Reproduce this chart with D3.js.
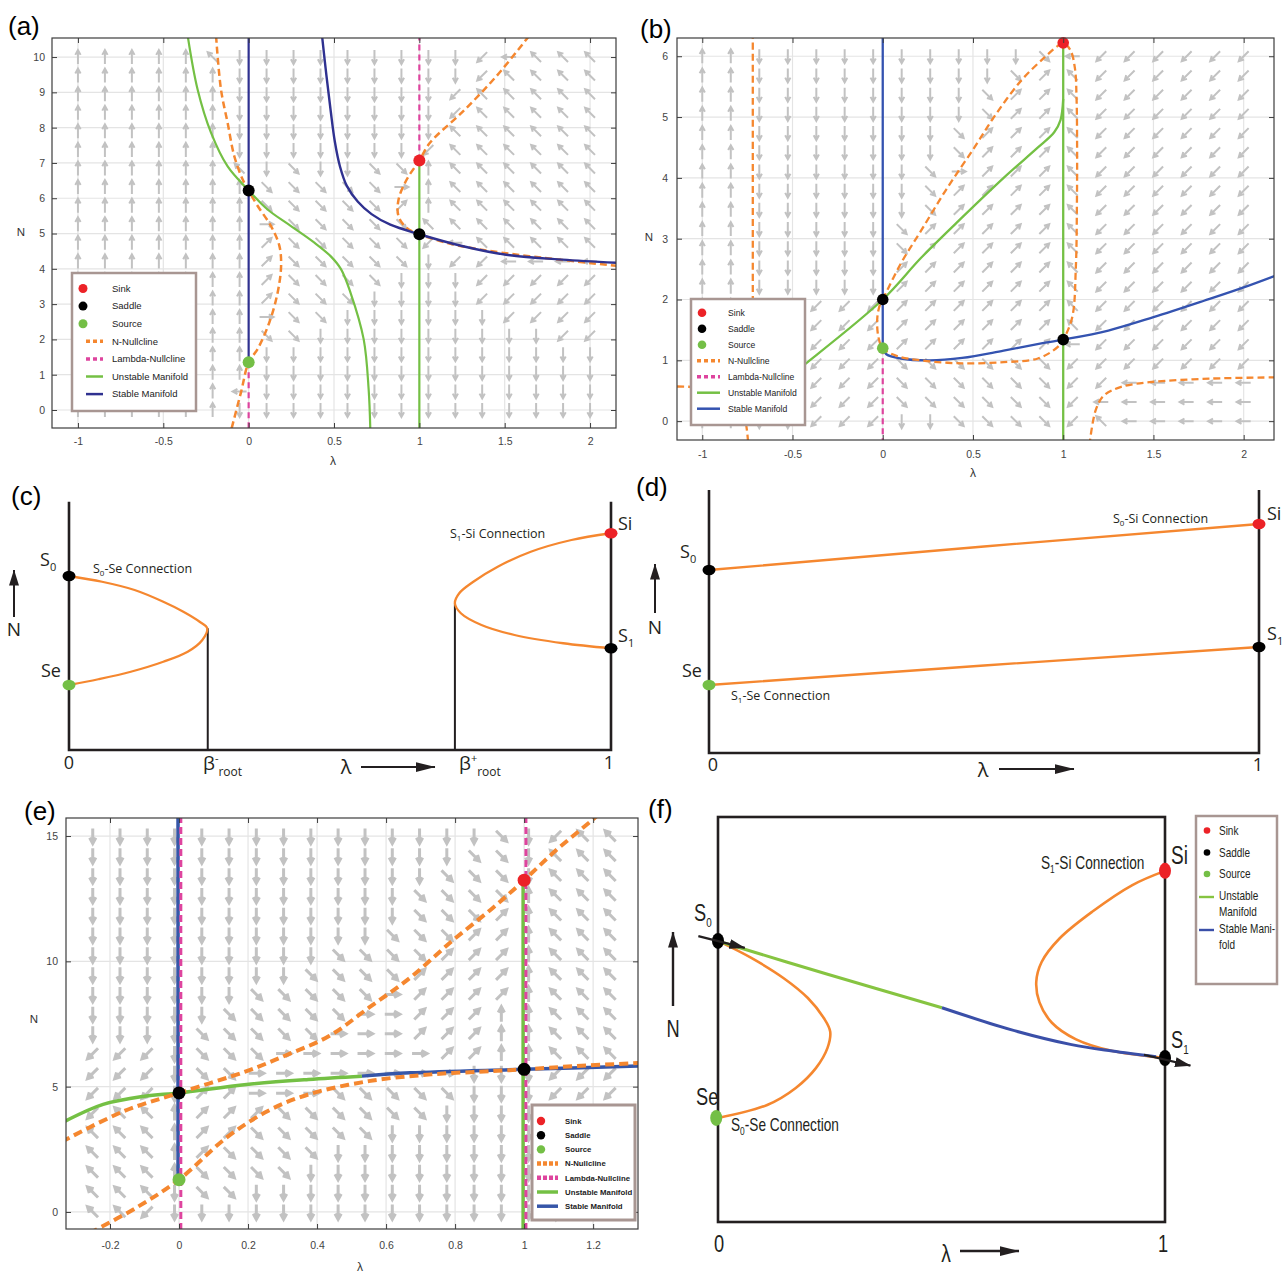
<!DOCTYPE html>
<html>
<head>
<meta charset="utf-8">
<script src="https://cdn.jsdelivr.net/npm/d3@7/dist/d3.min.js"></script>
<style>
body{margin:0;background:#fff;}
</style>
</head>
<body>
<svg id="fig" width="1283" height="1275" xmlns="http://www.w3.org/2000/svg"></svg>
<script>
// ======================= DATA =======================
// Quiver direction codes: w up, x down, a left, d right, q up-left, e up-right, z down-left, c down-right
// ---------- Panel (a) ----------
const aXTicks = [-1, -0.5, 0, 0.5, 1, 1.5, 2];
const aYTicks = [0, 1, 2, 3, 4, 5, 6, 7, 8, 9, 10];
const aGridX = [-1,-0.842,-0.684,-0.526,-0.368,-0.211,-0.053,0.105,0.263,0.421,0.579,0.737,0.895,1.053,1.211,1.368,1.526,1.684,1.842,2];
const aGridY = [10,9.474,8.947,8.421,7.895,7.368,6.842,6.316,5.789,5.263,4.737,4.211,3.684,3.158,2.632,2.105,1.579,1.053,0.526,0];
const aField = [
"wwwwwqxxxxxxxxxzaqqq",
"wwwwwwxxxxxxxxxzqqqq",
"wwwwwwxxxxxxxxzqqqqq",
"wwwwwwxxxxxxxxzqqqqq",
"wwwwwwxxxxxxxxqqqqqq",
"wwwwwwxxxxxxxzqqqqqq",
"wwwwwwqxcxxccwqqqqqq",
"wwwwwwwcccccdwqqqqqq",
"wwwwwwwcccccewqqqqqq",
"wwwwwwwdcccccqqqqqqq",
"wwwwwwweccccczaqqqqq",
"wwwwwwwecccccxzzaaaa",
"wwwwwwweccccxxxzzzzz",
"wwwwwwwecccxxxxzzzzz",
"wwwwwwwdccxxxxxxzzzz",
"wwwwwwwccxxxxxxxxxzz",
"wwwwwwwxxxxxxxxxxxxx",
"wwwwwwwxxxxxxxxxxxxx",
"wwwwwwaxxxxxxxxxxxxx",
"wwwwwwxxxxxxxxxxxxxx"];
const aUnstable = [[-0.357,10.6],[-0.299,9.08],[-0.22,7.85],[-0.123,6.9],[0,6.22],[0.111,5.68],[0.248,5.21],[0.385,4.74],[0.48,4.36],[0.541,3.99],[0.597,3.32],[0.674,2.0],[0.703,0.58],[0.713,-0.6]];
const aUnstableVert = [[1,7.07],[1,-0.6]];
const aStableVert = [[0,10.6],[0,1.35]];
const aStable = [[0.43,10.6],[0.455,9.5],[0.48,8.5],[0.505,7.6],[0.535,6.9],[0.575,6.35],[0.64,5.9],[0.72,5.55],[0.83,5.25],[1,4.98],[1.256,4.64],[1.508,4.4],[1.837,4.26],[2.16,4.17]];
const aNullN1 = [[-0.191,10.6],[-0.162,9.08],[-0.123,8.13],[-0.084,7.19],[-0.035,6.53],[0,6.22],[0.053,5.78],[0.131,5.21],[0.18,4.65],[0.19,4.08],[0.17,3.33],[0.121,2.48],[0.053,1.73],[0,1.35],[-0.045,0.5],[-0.104,-0.6]];
const aNullN2 = [[1.643,10.6],[1.45,9.45],[1.256,8.46],[1.062,7.57],[1,7.07],[0.926,6.53],[0.878,5.96],[0.878,5.49],[0.926,5.16],[1,4.98],[1.159,4.74],[1.353,4.55],[1.643,4.36],[2.16,4.08]];
const aNullL = [[[0,1.35],[0,-0.6]], [[1,7.07],[1,10.6]]];
const aSinks = [[1,7.07]], aSaddles = [[0,6.22],[1,4.98]], aSources = [[0,1.35]];

// ---------- Panel (b) ----------
const bXTicks = [-1, -0.5, 0, 0.5, 1, 1.5, 2];
const bYTicks = [0, 1, 2, 3, 4, 5, 6];
const bGridX = aGridX;
const bGridY = [6,5.684,5.368,5.053,4.737,4.421,4.105,3.789,3.474,3.158,2.842,2.526,2.211,1.895,1.579,1.263,0.947,0.632,0.316,0];
const bField = [
"wwxxxxxxxxxxcazzzzzz",
"wwxxxxxxxxxceqzzzzzz",
"wwxxxxxxxxceeqzzzzzz",
"wwxxxxxxxxceeqzzzzzz",
"wwxxxxxxxceeeqzzzzzz",
"wwxxxxxxxceeeqzzzzzz",
"wwxxxxxxcdeeeqzzzzzz",
"wwxxxxxxceeeeqzzzzzz",
"wwxxxxxxceeeeqzzzzzz",
"wwxxxxxceeeeeqzzzzzz",
"wwxxxxxceeeeeqzzzzzz",
"wwxxxxxeeeeeeqzzzzzz",
"wwxxxxxeeeeeeqzzzzzz",
"wwxxzzzeeeeeeqzzzzzz",
"wwxxzzzeeeeeeqzzzzzz",
"wwxxzzzeeeeeeazzzzzz",
"wwxxzzzcccccczzzzzzz",
"wwxxzzzcccccczzaaaaa",
"wwxxzzzcccccczaaaaaa",
"wwxxzzzxxcccczqaaaaa"];
const bUnstable = [[-0.6,0.55],[-0.43,0.94],[0,2.0],[0.214,2.69],[0.44,3.35],[0.67,4.0],[0.86,4.5],[0.95,4.75],[0.985,4.95],[1,5.3]];
const bUnstableVert = [[1,6.22],[1,-0.4]];
const bStableVert = [[0,6.4],[0,1.2]];
const bStable = [[0,1.2],[0.02,1.1],[0.1,1.03],[0.26,1.0],[0.44,1.04],[0.67,1.16],[0.9,1.29],[1,1.34],[1.25,1.49],[1.5,1.71],[1.78,1.98],[2.0,2.2],[2.2,2.42]];
const bNullLoop = [[0,2.0],[0.1,2.59],[0.214,3.14],[0.35,3.8],[0.51,4.51],[0.63,5.06],[0.77,5.61],[0.9,5.99],[0.97,6.17],[1,6.22],[1.04,6.1],[1.065,5.8],[1.074,5.3],[1.077,4.5],[1.076,3.6],[1.07,2.53],[1.05,1.71],[1,1.34],[0.97,1.22],[0.86,1.03],[0.67,0.97],[0.44,0.95],[0.21,1.0],[0.08,1.07],[0,1.2],[-0.025,1.4],[-0.03,1.7],[-0.015,1.92],[0,2.0]];
const bNullLeftA = [[-0.72,6.4],[-0.72,3.0],[-0.72,1.0]];
const bNullLeftB = [[-1.2,0.57],[-1.0,0.55],[-0.85,0.45],[-0.77,0.1],[-0.745,-0.4]];
const bNullRight = [[1.145,-0.4],[1.18,0.18],[1.225,0.42],[1.317,0.56],[1.478,0.64],[1.823,0.7],[2.2,0.72]];
const bNullL = [[[0,1.2],[0,-0.4]]];
const bSinks = [[1,6.22]], bSaddles = [[0,2.0],[1,1.34]], bSources = [[0,1.2]];

// ---------- Panel (e) ----------
const eXTicks = [-0.2, 0, 0.2, 0.4, 0.6, 0.8, 1, 1.2];
const eYTicks = [0, 5, 10, 15];
const eGridX = [-0.25,-0.171,-0.092,-0.013,0.066,0.145,0.224,0.303,0.382,0.461,0.539,0.618,0.697,0.776,0.855,0.934,1.013,1.092,1.171,1.25];
const eGridY = [15,14.21,13.42,12.63,11.84,11.05,10.26,9.47,8.68,7.89,7.11,6.32,5.53,4.74,3.95,3.16,2.37,1.58,0.79,0];
const eField = [
"xxxxxxxxxxxxxxxcxzqq",
"xxxxxxxxxxxxxxccxqqq",
"xxxxxxxxxxxxxcccxqqq",
"xxxxxxxxxxxxccccwqqq",
"xxxxxxxxxxxxcccewqqq",
"xxxxxxxxxxxccceewqqq",
"xxxxxxxxxcccceeewqqq",
"xxxxxxxxcccceeeewqqq",
"xxxxxxcccccdeeeewqqq",
"xxxxxcccccddeeewwqqq",
"xxxxcccccdddeeewwqqq",
"zzzxcccddddddeewwqqq",
"zzzxccddddddddxxxzzz",
"zzzxeedddcccccxxxzzz",
"zqqweeeccccccxxxxzzz",
"qqqweecccccxxxxxxzzz",
"qqqweccccxxxxxxxxxzz",
"qqqwccccxxxxxxxxxxzz",
"qqqxccxxxxxxxxxxxxzz",
"qqzxxxxxxxxxxxxxxxzz"];
const eUnstable = [[-0.34,3.55],[-0.22,4.29],[-0.1,4.62],[0,4.75],[0.196,5.09],[0.375,5.29],[0.53,5.42]];
const eUnstableVert = [[1,13.24],[1,-0.8]];
const eStable = [[0.53,5.42],[0.67,5.55],[1,5.69],[1.34,5.83]];
const eStableVert = [[0,15.8],[0,1.29]];
const eNullUpper = [[-0.34,2.8],[-0.16,4.02],[0,4.75],[0.196,5.62],[0.315,6.28],[0.435,7.02],[0.55,8.15],[0.67,9.35],[0.79,10.8],[0.91,12.14],[1,13.24],[1.09,14.4],[1.2,15.67],[1.26,16.4]];
const eNullLower = [[-0.26,-0.85],[-0.125,0.16],[0,1.29],[0.137,2.96],[0.256,4.02],[0.375,4.69],[0.55,5.22],[0.73,5.49],[0.91,5.62],[1,5.69],[1.15,5.82],[1.34,5.95]];
const eNullL = [[[0,15.8],[0,-0.8]], [[1,15.8],[1,-0.8]]];
const eSinks = [[1,13.24]], eSaddles = [[0,4.75],[1,5.69]], eSources = [[0,1.29]];

// ---------- Panel (c) ----------
const cLeftCurve = [[0,6.96],[0.061,6.73],[0.121,6.4],[0.174,5.93],[0.211,5.53],[0.241,5.13],[0.255,4.87],[0.246,4.4],[0.219,3.93],[0.174,3.53],[0.114,3.13],[0.054,2.83],[0,2.6]];
const cRightCurve = [[1,8.67],[0.927,8.4],[0.852,7.93],[0.791,7.33],[0.746,6.73],[0.72,6.27],[0.712,5.87],[0.723,5.47],[0.761,5.0],[0.822,4.6],[0.912,4.27],[1,4.07]];
const cFrame = [[[0,9.93],[0,0],[1,0],[1,9.93]]];
const cRoots = [[[0.256,0],[0.256,4.87]], [[0.712,0],[0.712,5.87]]];
const cPoints = [{p:[0,6.96],t:"saddle"},{p:[0,2.6],t:"source"},{p:[1,8.67],t:"sink"},{p:[1,4.07],t:"saddle"}];

// ---------- Panel (d) ----------
const dUpper = [[0,7.32],[0.5,8.26],[1,9.16]];
const dLower = [[0,2.72],[0.5,3.5],[1,4.24]];
const dFrame = [[[0,10.52],[0,0],[1,0],[1,10.52]]];
const dPoints = [{p:[0,7.32],t:"saddle"},{p:[0,2.72],t:"source"},{p:[1,9.16],t:"sink"},{p:[1,4.24],t:"saddle"}];

// ---------- Panel (f) ----------
const fLeftCurve = [[0,6.94],[0.0745,6.52],[0.147,6.02],[0.201,5.53],[0.237,5.03],[0.251,4.7],[0.245,4.3],[0.219,3.8],[0.174,3.31],[0.11,2.89],[0,2.57]];
const fRightCurve = [[1,8.67],[0.927,8.32],[0.837,7.66],[0.764,7.0],[0.724,6.42],[0.712,5.93],[0.719,5.43],[0.747,4.92],[0.801,4.51],[0.883,4.22],[0.965,4.09],[1,4.05]];
const fUnstable = [[0.01,6.9],[0.247,6.11],[0.501,5.29]];
const fStable = [[0.501,5.29],[0.655,4.75],[0.791,4.38],[0.882,4.22],[0.98,4.08]];
const fArrows = [[[-0.044,7.06],[0.06,6.77]], [[0.953,4.13],[1.057,3.86]]];
const fPoints = [{p:[0,6.94],t:"saddle"},{p:[-0.004,2.57],t:"source"},{p:[1,8.67],t:"sink"},{p:[1,4.05],t:"saddle"}];

const legendItems = [
  {label:"Sink", type:"dot", key:"sink"},
  {label:"Saddle", type:"dot", key:"saddle"},
  {label:"Source", type:"dot", key:"source"},
  {label:"N-Nullcline", type:"dash", key:"orange"},
  {label:"Lambda-Nullcline", type:"dash", key:"magenta"},
  {label:"Unstable Manifold", type:"line", key:"green"},
  {label:"Stable Manifold", type:"line", key:"blue"}];
const fLegendItems = [
  {label:["Sink"], type:"dot", key:"sink"},
  {label:["Saddle"], type:"dot", key:"saddle"},
  {label:["Source"], type:"dot", key:"source"},
  {label:["Unstable","Manifold"], type:"line", key:"green"},
  {label:["Stable Mani-","fold"], type:"line", key:"blue"}];

// ======================= STYLE =======================
const COL = {sink:"#ec2227", saddle:"#000000", source:"#74bf46", orange:"#f5872f", magenta:"#de449e", green:"#74c044", blue:"#2f3190", arrow:"#c2c2c2", grid:"#e4e4e4", frame:"#3d3d3d", text:"#231f20", legBorder:"#a89692"};
const FONT = "'Liberation Sans', Arial, sans-serif";
const MYR = "'Open Sans', 'Liberation Sans', sans-serif";

const svg = d3.select("#fig");
svg.append("rect").attr("width",1283).attr("height",1275).attr("fill","#fff");
const defs = svg.append("defs");
function mkMarker(id, w, h){
  defs.append("marker").attr("id",id).attr("viewBox",`0 0 ${w} ${h}`).attr("refX",w-0.5).attr("refY",h/2)
    .attr("markerUnits","userSpaceOnUse").attr("markerWidth",w).attr("markerHeight",h).attr("orient","auto")
    .append("path").attr("d",`M0,0L${w},${h/2}L0,${h}Z`).attr("fill","#231f20");
}
mkMarker("headBig", 20, 10);
mkMarker("headMid", 16, 10);

const DIR = {w:[0,-1],x:[0,1],a:[-1,0],d:[1,0],q:[-Math.SQRT1_2,-Math.SQRT1_2],e:[Math.SQRT1_2,-Math.SQRT1_2],z:[-Math.SQRT1_2,Math.SQRT1_2],c:[Math.SQRT1_2,Math.SQRT1_2]};
function arrowPath(cx, cy, v, L, H){
  const [dx,dy] = v, h = L/2;
  const tx = cx+dx*h, ty = cy+dy*h, sx = cx-dx*h, sy = cy-dy*h;
  const a = 0.5, c = Math.cos(a), s = Math.sin(a), bx=-dx, by=-dy;
  const h1x = tx+H*(bx*c-by*s), h1y = ty+H*(bx*s+by*c);
  const h2x = tx+H*(bx*c+by*s), h2y = ty+H*(-bx*s+by*c);
  return `M${sx},${sy}L${tx},${ty}M${h1x},${h1y}L${tx},${ty}L${h2x},${h2y}`;
}

function panelLabel(txt, x, y){
  svg.append("text").attr("x",x).attr("y",y).attr("font-family",FONT).attr("font-size",26).attr("fill","#000").text(txt);
}

function legendBox(L){
  const g = svg.append("g");
  g.append("rect").attr("x",L.x).attr("y",L.y).attr("width",L.w).attr("height",L.h).attr("fill","#fff").attr("stroke",COL.legBorder).attr("stroke-width",L.bw);
  const items = g.selectAll("g.it").data(L.items).join("g").attr("transform",(d,i)=>`translate(0,${L.y0+i*L.dy})`);
  items.each(function(d){
    const s = d3.select(this);
    if(d.type==="dot") s.append("circle").attr("cx",L.mx).attr("cy",0).attr("r",L.r).attr("fill",COL[d.key]);
    else s.append("line").attr("x1",L.lx1).attr("x2",L.lx2).attr("y1",0).attr("y2",0).attr("stroke",d.key==="blue"?L.blue:COL[d.key])
      .attr("stroke-width",d.type==="dash"?L.dw:L.lw).attr("stroke-dasharray",d.type==="dash"?L.dash:null);
    s.append("text").attr("x",L.tx).attr("y",0).attr("dy","0.35em").attr("font-family",FONT).attr("font-size",L.fs).attr("font-weight",L.fw||400).attr("fill","#222").text(d.label);
  });
}

function phasePanel(o){
  const g = svg.append("g");
  const x = d3.scaleLinear().domain(o.xDom).range([o.left,o.right]);
  const y = d3.scaleLinear().domain(o.yDom).range([o.bottom,o.top]);
  const cid = "clip-"+o.id;
  defs.append("clipPath").attr("id",cid).append("rect").attr("x",o.left).attr("y",o.top).attr("width",o.right-o.left).attr("height",o.bottom-o.top);
  g.append("g").selectAll("line").data(o.xTicks).join("line").attr("x1",d=>x(d)).attr("x2",d=>x(d)).attr("y1",o.top).attr("y2",o.bottom).attr("stroke",COL.grid).attr("stroke-width",1.2);
  g.append("g").selectAll("line").data(o.yTicks).join("line").attr("y1",d=>y(d)).attr("y2",d=>y(d)).attr("x1",o.left).attr("x2",o.right).attr("stroke",COL.grid).attr("stroke-width",1.2);
  const inner = g.append("g").attr("clip-path",`url(#${cid})`);
  const arrows = [];
  o.field.forEach((row,j)=>[...row].forEach((ch,i)=>arrows.push({lx:o.gridX[i], ny:o.gridY[j], ch})));
  inner.append("g").attr("fill","none").attr("stroke",COL.arrow).attr("stroke-width",o.arrowW).attr("stroke-linejoin","miter")
    .selectAll("path").data(arrows).join("path").attr("d",d=>arrowPath(x(d.lx),y(d.ny),DIR[d.ch],o.arrowLen,o.headLen));
  const line = d3.line().x(d=>x(d[0])).y(d=>y(d[1])).curve(d3.curveCatmullRom.alpha(0.5));
  o.curves.forEach(c=>{
    inner.append("path").datum(c.pts).attr("d",line).attr("fill","none").attr("stroke",c.color).attr("stroke-width",c.w)
      .attr("stroke-dasharray",c.dash||null).attr("transform",c.dx?`translate(${c.dx},0)`:null);
  });
  const pts = [];
  o.sinks.forEach(p=>pts.push({p,k:"sink"})); o.saddles.forEach(p=>pts.push({p,k:"saddle"})); o.sources.forEach(p=>pts.push({p,k:"source"}));
  g.append("g").selectAll("ellipse").data(pts).join("ellipse").attr("cx",d=>x(d.p[0])).attr("cy",d=>y(d.p[1])).attr("rx",o.rx).attr("ry",o.ry).attr("fill",d=>COL[d.k]);
  g.append("rect").attr("x",o.left).attr("y",o.top).attr("width",o.right-o.left).attr("height",o.bottom-o.top).attr("fill","none").attr("stroke",COL.frame).attr("stroke-width",1.2);
  const styleAxis = s=>{ s.select(".domain").remove(); s.selectAll(".tick line").attr("stroke",COL.frame); s.selectAll("text").attr("font-family",FONT).attr("font-size",o.tfs).attr("fill","#444"); };
  g.append("g").attr("transform",`translate(0,${o.bottom})`).call(d3.axisBottom(x).tickValues(o.xTicks).tickFormat(d=>String(d)).tickSizeInner(-5).tickSizeOuter(0).tickPadding(o.xPad)).call(styleAxis);
  g.append("g").attr("transform",`translate(0,${o.top})`).call(d3.axisTop(x).tickValues(o.xTicks).tickFormat("").tickSizeInner(-5).tickSizeOuter(0)).call(styleAxis);
  g.append("g").attr("transform",`translate(${o.left},0)`).call(d3.axisLeft(y).tickValues(o.yTicks).tickFormat(d=>String(d)).tickSizeInner(-5).tickSizeOuter(0).tickPadding(o.yPad)).call(styleAxis);
  g.append("g").attr("transform",`translate(${o.right},0)`).call(d3.axisRight(y).tickValues(o.yTicks).tickFormat("").tickSizeInner(-5).tickSizeOuter(0)).call(styleAxis);
  g.append("text").attr("x",o.yLab[0]).attr("y",o.yLab[1]).attr("dy","0.35em").attr("text-anchor","middle").attr("font-family",FONT).attr("font-size",11.5).attr("fill","#333").text("N");
  g.append("text").attr("x",o.xLab[0]).attr("y",o.xLab[1]).attr("dy","0.35em").attr("text-anchor","middle").attr("font-family",FONT).attr("font-size",12).attr("fill","#333").text("λ");
  return {g,x,y};
}

// ---------------- Panel (a) ----------------
phasePanel({id:"a", left:52, right:616, top:38, bottom:428, xDom:[-1.152,2.152], yDom:[-0.51,10.54],
  xTicks:aXTicks, yTicks:aYTicks, gridX:aGridX, gridY:aGridY, field:aField,
  arrowLen:14, headLen:5.5, arrowW:2, tfs:10.5, xPad:10, yPad:7, rx:6, ry:6,
  yLab:[21,232], xLab:[333,461],
  curves:[
    {pts:aNullL[0], color:COL.magenta, w:2.2, dash:"6,4"},
    {pts:aNullL[1], color:COL.magenta, w:2.2, dash:"6,4"},
    {pts:aNullN1, color:COL.orange, w:2.5, dash:"7,4"},
    {pts:aNullN2, color:COL.orange, w:2.5, dash:"7,4"},
    {pts:aUnstable, color:COL.green, w:2.2},
    {pts:aUnstableVert, color:COL.green, w:2.2},
    {pts:aStableVert, color:COL.blue, w:2.2},
    {pts:aStable, color:COL.blue, w:2.4}],
  sinks:aSinks, saddles:aSaddles, sources:aSources});
legendBox({x:72, y:273, w:124, h:138, bw:2.5, y0:288.5, dy:17.6, mx:83, r:4.5, lx1:86, lx2:103, tx:112, fs:9.5, dw:3.5, lw:2.5, dash:"4,3", blue:COL.blue, items:legendItems});
panelLabel("(a)", 8, 35);

// ---------------- Panel (b) ----------------
const bBlue = "#3453b0";
phasePanel({id:"b", left:677, right:1274, top:38, bottom:440, xDom:[-1.14,2.168], yDom:[-0.31,6.3],
  xTicks:bXTicks, yTicks:bYTicks, gridX:bGridX, gridY:bGridY, field:bField,
  arrowLen:14, headLen:5.5, arrowW:2, tfs:10.5, xPad:11, yPad:9, rx:5.8, ry:5.8,
  yLab:[649,237], xLab:[973,473],
  curves:[
    {pts:bNullL[0], color:COL.magenta, w:2.2, dash:"6,4"},
    {pts:bStableVert, color:bBlue, w:2.3},
    {pts:bStable, color:bBlue, w:2.3},
    {pts:bUnstable, color:COL.green, w:2.3},
    {pts:bUnstableVert, color:COL.green, w:2.3},
    {pts:bNullLoop, color:COL.orange, w:2.3, dash:"7,4"},
    {pts:bNullLeftA, color:COL.orange, w:2.3, dash:"7,4"},
    {pts:bNullLeftB, color:COL.orange, w:2.3, dash:"7,4"},
    {pts:bNullRight, color:COL.orange, w:2.3, dash:"7,4"}],
  sinks:bSinks, saddles:bSaddles, sources:bSources});
legendBox({x:691, y:299, w:114, h:126, bw:2.5, y0:312.7, dy:16, mx:702, r:4.3, lx1:697, lx2:720, tx:728, fs:8.6, dw:3.5, lw:2.5, dash:"4,3", blue:bBlue, items:legendItems});
panelLabel("(b)", 640, 38);

// ---------------- Panel (e) ----------------
const eBlue = "#3656a8";
phasePanel({id:"e", left:66, right:638, top:818, bottom:1229, xDom:[-0.3275,1.33], yDom:[-0.68,15.72],
  xTicks:eXTicks, yTicks:eYTicks, gridX:eGridX, gridY:eGridY, field:eField,
  arrowLen:15, headLen:6.5, arrowW:3, tfs:10.5, xPad:13, yPad:8, rx:6.5, ry:6.5,
  yLab:[34,1019], xLab:[360,1267],
  curves:[
    {pts:eStableVert, color:eBlue, w:3.5, dx:-1},
    {pts:eUnstableVert, color:COL.green, w:3.5, dx:-1},
    {pts:eNullL[0], color:COL.magenta, w:3, dash:"7,4", dx:1.8},
    {pts:eNullL[1], color:COL.magenta, w:3, dash:"7,4", dx:1.8},
    {pts:eUnstable, color:COL.green, w:3.5},
    {pts:eStable, color:eBlue, w:3.5},
    {pts:eNullUpper, color:COL.orange, w:4, dash:"9,5"},
    {pts:eNullLower, color:COL.orange, w:4, dash:"9,5"}],
  sinks:eSinks, saddles:eSaddles, sources:eSources});
legendBox({x:532, y:1105, w:103, h:115, bw:3, y0:1121, dy:14.2, mx:541, r:4.2, lx1:537, lx2:558, tx:565, fs:7.8, fw:600, dw:4.5, lw:3.5, dash:"4,2", blue:eBlue, items:legendItems});
panelLabel("(e)", 24, 820);

// ---------------- Schematic helpers ----------------
function rich(g, x, y, parts, size, opt){
  opt = opt || {};
  const t = g.append("text").attr("x",x).attr("y",y).attr("font-size",size).attr("font-family",opt.family||MYR).attr("fill",COL.text).attr("text-anchor",opt.anchor||"start");
  if(opt.sx) t.attr("transform",`translate(${x},${y}) scale(${opt.sx},1) translate(${-x},${-y})`);
  let cur = 0;
  parts.forEach(p=>{
    const [str, shift=0, fs] = p;
    const ts = t.append("tspan").text(str);
    if(shift-cur !== 0) ts.attr("dy", shift-cur);
    cur = shift;
    if(fs) ts.attr("font-size", fs);
  });
  return t;
}
function schematic(o){
  const g = svg.append("g");
  const x = d3.scaleLinear().domain([0,1]).range([o.left,o.right]);
  const y = d3.scaleLinear().domain([0,10]).range([o.bottom,o.bottom-o.unit*10]);
  const straight = d3.line().x(d=>x(d[0])).y(d=>y(d[1]));
  const smooth = d3.line().x(d=>x(d[0])).y(d=>y(d[1])).curve(d3.curveCatmullRom.alpha(0.5));
  return {g,x,y,straight,smooth};
}

// ---------------- Panel (c) ----------------
{
  const {g,x,y,straight,smooth} = schematic({left:69, right:611, bottom:750, unit:25});
  g.selectAll(null).data(cFrame).join("path").attr("d",straight).attr("fill","none").attr("stroke","#231f20").attr("stroke-width",2.6);
  g.selectAll(null).data(cRoots).join("path").attr("d",straight).attr("fill","none").attr("stroke","#231f20").attr("stroke-width",2);
  g.selectAll(null).data([cLeftCurve,cRightCurve]).join("path").attr("d",smooth).attr("fill","none").attr("stroke",COL.orange).attr("stroke-width",2.3);
  g.selectAll(null).data(cPoints).join("ellipse").attr("cx",d=>x(d.p[0])).attr("cy",d=>y(d.p[1])).attr("rx",6.5).attr("ry",5.2).attr("fill",d=>COL[d.t]);
  rich(g, 40, 566, [["S"],["0",5,11]], 18);
  rich(g, 93, 573, [["S"],["0",3,8],["-Se Connection",0]], 12.5);
  rich(g, 41, 677, [["Se"]], 18);
  rich(g, 450, 538, [["S"],["1",3,8],["-Si Connection",0]], 12.5);
  rich(g, 618, 530, [["Si"]], 18);
  rich(g, 618, 642, [["S"],["1",5,11]], 18);
  rich(g, 69, 769, [["0"]], 18, {anchor:"middle"});
  rich(g, 203, 770, [["β"],["-",-8,11],["root",6,12]], 19);
  rich(g, 346, 774, [["λ"]], 20, {anchor:"middle"});
  g.append("line").attr("x1",361).attr("x2",435).attr("y1",767).attr("y2",767).attr("stroke","#231f20").attr("stroke-width",2).attr("marker-end","url(#headBig)");
  rich(g, 459, 770, [["β"],["+",-8,11],["root",6,12]], 19);
  rich(g, 609, 769, [["1"]], 18, {anchor:"middle"});
  g.append("line").attr("x1",14).attr("x2",14).attr("y1",617).attr("y2",570).attr("stroke","#231f20").attr("stroke-width",2).attr("marker-end","url(#headMid)");
  rich(g, 14, 636, [["N"]], 19, {anchor:"middle"});
}
panelLabel("(c)", 11, 505);

// ---------------- Panel (d) ----------------
{
  const {g,x,y,straight} = schematic({left:709, right:1259, bottom:753, unit:25});
  g.selectAll(null).data(dFrame).join("path").attr("d",straight).attr("fill","none").attr("stroke","#231f20").attr("stroke-width",2.6);
  g.selectAll(null).data([dUpper,dLower]).join("path").attr("d",straight).attr("fill","none").attr("stroke",COL.orange).attr("stroke-width",2.3);
  g.selectAll(null).data(dPoints).join("ellipse").attr("cx",d=>x(d.p[0])).attr("cy",d=>y(d.p[1])).attr("rx",6.5).attr("ry",5.2).attr("fill",d=>COL[d.t]);
  rich(g, 680, 558, [["S"],["0",5,11]], 18);
  rich(g, 682, 677, [["Se"]], 18);
  rich(g, 1113, 523, [["S"],["0",3,8],["-Si Connection",0]], 12.5);
  rich(g, 1267, 520, [["Si"]], 18);
  rich(g, 1267, 640, [["S"],["1",5,11]], 18);
  rich(g, 731, 700, [["S"],["1",3,8],["-Se Connection",0]], 12.5);
  rich(g, 713, 771, [["0"]], 18, {anchor:"middle"});
  rich(g, 983, 777, [["λ"]], 20, {anchor:"middle"});
  g.append("line").attr("x1",999).attr("x2",1074).attr("y1",769).attr("y2",769).attr("stroke","#231f20").attr("stroke-width",2).attr("marker-end","url(#headBig)");
  rich(g, 1258, 771, [["1"]], 18, {anchor:"middle"});
  g.append("line").attr("x1",655).attr("x2",655).attr("y1",613).attr("y2",564).attr("stroke","#231f20").attr("stroke-width",2).attr("marker-end","url(#headMid)");
  rich(g, 655, 634, [["N"]], 19, {anchor:"middle"});
}
panelLabel("(d)", 636, 496);

// ---------------- Panel (f) ----------------
{
  const {g,x,y,straight,smooth} = schematic({left:718, right:1165, bottom:1222, unit:40.5});
  g.append("rect").attr("x",x(0)).attr("y",y(10)).attr("width",x(1)-x(0)).attr("height",y(0)-y(10)).attr("fill","none").attr("stroke","#231f20").attr("stroke-width",2.6);
  g.selectAll(null).data([fLeftCurve,fRightCurve]).join("path").attr("d",smooth).attr("fill","none").attr("stroke",COL.orange).attr("stroke-width",2.6);
  g.append("path").datum(fUnstable).attr("d",smooth).attr("fill","none").attr("stroke","#86c441").attr("stroke-width",3);
  g.append("path").datum(fStable).attr("d",smooth).attr("fill","none").attr("stroke","#3a4fa8").attr("stroke-width",3);
  g.selectAll(null).data(fPoints).join("ellipse").attr("cx",d=>x(d.p[0])).attr("cy",d=>y(d.p[1])).attr("rx",6).attr("ry",8).attr("fill",d=>COL[d.t]);
  g.selectAll(null).data(fArrows).join("path").attr("d",straight).attr("stroke","#231f20").attr("stroke-width",2.2).attr("marker-end","url(#headMid)");
  const C = {family:FONT, sx:0.76};
  rich(g, 1041, 869, [["S"],["1",4,11],["-Si Connection",0]], 18, C);
  rich(g, 1171, 864, [["Si"]], 25, C);
  rich(g, 694, 921, [["S"],["0",6,13]], 24, C);
  rich(g, 696, 1105, [["Se"]], 24, C);
  rich(g, 1171, 1048, [["S"],["1",6,13]], 24, C);
  rich(g, 731, 1131, [["S"],["0",4,11],["-Se Connection",0]], 18, C);
  rich(g, 719, 1252, [["0"]], 24, {family:FONT, sx:0.76, anchor:"middle"});
  rich(g, 1163, 1252, [["1"]], 24, {family:FONT, sx:0.76, anchor:"middle"});
  rich(g, 946, 1262, [["λ"]], 24, {family:FONT, sx:0.8, anchor:"middle"});
  g.append("line").attr("x1",960).attr("x2",1019).attr("y1",1251).attr("y2",1251).attr("stroke","#231f20").attr("stroke-width",2.4).attr("marker-end","url(#headBig)");
  g.append("line").attr("x1",673).attr("x2",673).attr("y1",1006).attr("y2",932).attr("stroke","#231f20").attr("stroke-width",2.4).attr("marker-end","url(#headMid)");
  rich(g, 673, 1037, [["N"]], 24, {family:FONT, sx:0.76, anchor:"middle"});
  // legend (f)
  const L = svg.append("g");
  L.append("rect").attr("x",1196).attr("y",816).attr("width",81).attr("height",168).attr("fill","#fff").attr("stroke",COL.legBorder).attr("stroke-width",2.5);
  const rowsY = [830.5, 852.5, 874, 896, 929];
  fLegendItems.forEach((it,i)=>{
    const yy = rowsY[i];
    if(it.type==="dot") L.append("circle").attr("cx",1207).attr("cy",yy).attr("r",3.3).attr("fill",COL[it.key]);
    else L.append("line").attr("x1",1199).attr("x2",1214).attr("y1",yy+1).attr("y2",yy+1).attr("stroke",it.key==="blue"?"#3a4fa8":"#86c441").attr("stroke-width",2.4);
    it.label.forEach((s,k)=>rich(L, 1219, yy+4.5+k*16, [[s]], 12.5, {family:FONT, sx:0.8}));
  });
}
panelLabel("(f)", 648, 818);
</script>
</body>
</html>
